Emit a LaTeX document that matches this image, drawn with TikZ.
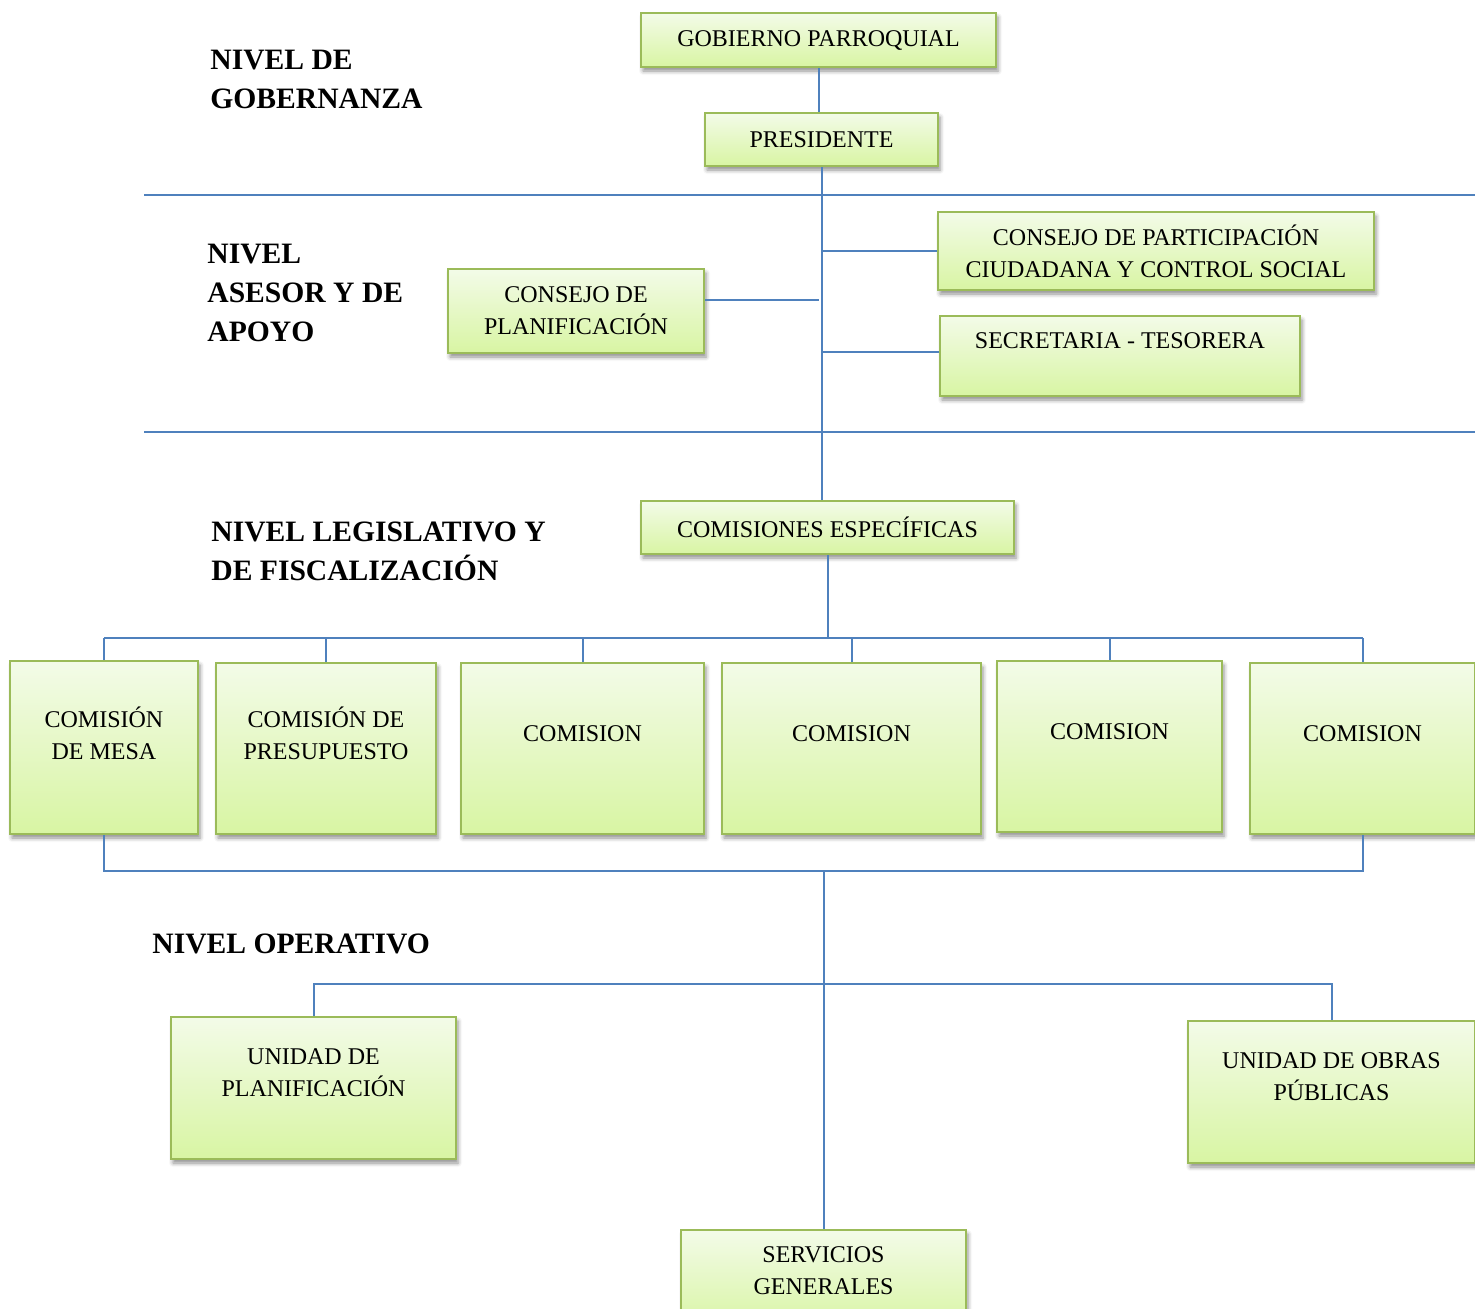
\documentclass[tikz,border=0pt]{standalone}
\usepackage{fontspec}
\setmainfont{Liberation Serif}
\usepackage{tikz}
\usetikzlibrary{shadows.blur,positioning}
\definecolor{orgGreen}{HTML}{9BBB59}
\definecolor{orgTop}{HTML}{F3FBE8}
\definecolor{orgBottom}{HTML}{D8F5A3}
\definecolor{orgBlue}{HTML}{4F81BD}

\begin{document}
\begin{tikzpicture}[
x=0.5pt, y=-0.5pt,
every node/.style={font=\fontsize{12}{16}\selectfont},
unit/.style={draw=orgGreen, line width=1pt, top color=orgTop, bottom color=orgBottom, align=center, inner sep=0pt, blur shadow={shadow xshift=1pt, shadow yshift=-2pt, shadow blur radius=2pt, shadow opacity=45}},
sz/.style 2 args={minimum width=#1*0.5pt, minimum height=#2*0.5pt},
unittxt/.style={align=center, inner sep=0pt},
level/.style={align=left, anchor=north west, inner sep=0pt, font=\fontsize{14.8}{19.5}\selectfont\bfseries},
link/.style={draw=orgBlue, line width=1pt},
sep/.style={draw=orgBlue, line width=0.9pt}
]
\useasboundingbox (0,0) rectangle (1475,1308);

% Level titles
\node[level] (lgob) at (210,50) {NIVEL DE\\GOBERNANZA};
\node[level] (lase) at (207,244) {NIVEL\\ASESOR Y DE\\APOYO};
\node[level] (lleg) at (211,521) {NIVEL LEGISLATIVO Y\\DE FISCALIZACIÓN};
\node[level] (lope) at (152,933) {NIVEL OPERATIVO};

% Level separators
\draw[sep] (144,195) -- (1475,195);
\draw[sep] (144,432) -- (1475,432);

% Governance
\node[unit, sz={355}{54}] (gob) at (818.5,40) {GOBIERNO PARROQUIAL};
\node[unit, sz={233}{53}] (pres) at (821.5,139.5) {PRESIDENTE};
\draw[link] (gob.south) -- (gob.south |- pres.north);

% Advisory and support
\node[unit, sz={436}{78}] (cpart) at (1156,251) {CONSEJO DE PARTICIPACIÓN\\CIUDADANA Y CONTROL SOCIAL};
\node[unit, sz={360}{80}] (sec) at (1120,356) {};
\node[unittxt] (sec-t) at (1120,341) {SECRETARIA - TESORERA};
\node[unit, sz={256}{84}] (cplan) at (576,311) {CONSEJO DE\\PLANIFICACIÓN};

% Legislative
\node[unit, sz={373}{53}] (com) at (827.5,527.5) {COMISIONES ESPECÍFICAS};
\draw[link] (pres.south) -- (pres.south |- com.north);
\draw[link] (cpart.west) -- (cpart.west -| pres.south);
\draw[link] ([yshift=2pt]sec.west) -- +(-118,0);
\draw[link] ([yshift=5.5pt]cplan.east) -- +(114,0);

\node[unit, sz={188}{173}] (c1) at (104,747.5) {};
\node[unittxt] (c1-t) at (104,733) {COMISIÓN\\DE MESA};
\node[unit, sz={220}{171}] (c2) at (326,748.5) {};
\node[unittxt] (c2-t) at (326,733) {COMISIÓN DE\\PRESUPUESTO};
\node[unit, sz={243}{171}] (c3) at (582.5,748.5) {};
\node[unittxt] (c3-t) at (582.5,734) {COMISION};
\node[unit, sz={259}{171}] (c4) at (851.5,748.5) {};
\node[unittxt] (c4-t) at (851.5,734) {COMISION};
\node[unit, sz={225}{171}] (c5) at (1109.5,746.5) {};
\node[unittxt] (c5-t) at (1109.5,732) {COMISION};
\node[unit, sz={225}{171}] (c6) at (1362.5,748.5) {};
\node[unittxt] (c6-t) at (1362.5,734) {COMISION};

\coordinate (busA) at (824,638);
\draw[link] (com.south) -- (com.south |- busA);
\draw[link] (c1.north |- busA) -- (c6.north |- busA);
\foreach \c in {c1,c2,c3,c4,c5,c6}
  \draw[link] (\c.north |- busA) -- (\c.north);

% Operative
\node[unit, sz={285}{142}] (up) at (313.5,1088) {};
\node[unittxt] (up-t) at (313.5,1073) {UNIDAD DE\\PLANIFICACIÓN};
\node[unit, sz={287}{142}] (uo) at (1331.5,1092) {};
\node[unittxt] (uo-t) at (1331.5,1077) {UNIDAD DE OBRAS\\PÚBLICAS};
\node[unit, sz={285}{100}] (serv) at (823.5,1280) {};
\node[unittxt] (serv-t) at (823.5,1271) {SERVICIOS\\GENERALES};

\coordinate (busB) at (824,871);
\coordinate (busC) at (824,984);
\draw[link] (c1.south) -- (c1.south |- busB) -- (c6.south |- busB) -- (c6.south);
\draw[link] (serv.north |- busB) -- (serv.north);
\draw[link] (up.north) -- (up.north |- busC) -- (uo.north |- busC) -- (uo.north);

\end{tikzpicture}
\end{document}
